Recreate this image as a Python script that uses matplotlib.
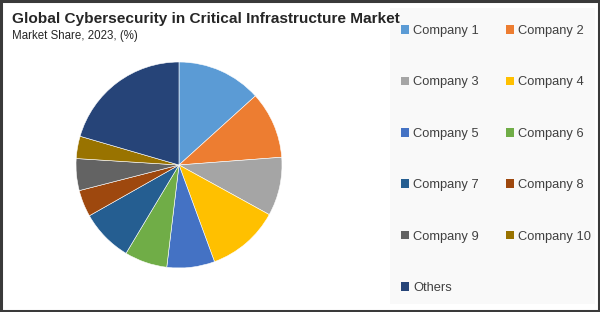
import matplotlib
matplotlib.use("Agg")
import matplotlib.pyplot as plt
from matplotlib.patches import Rectangle

# market share by company, 2023 (%)
labels = ["Company 1", "Company 2", "Company 3", "Company 4", "Company 5",
          "Company 6", "Company 7", "Company 8", "Company 9", "Company 10", "Others"]
shares = [13.3, 10.5, 9.2, 11.4, 7.5, 6.7, 8.2, 4.2, 5.0, 3.5, 20.5]
colors = ["#5B9BD5", "#ED7D31", "#A5A5A5", "#FFC000", "#4472C4", "#70AD47",
          "#255E91", "#9E480E", "#636363", "#997300", "#264478"]

plt.rcParams['font.family'] = ['Liberation Sans', 'DejaVu Sans']

fig = plt.figure(figsize=(6, 3.12), dpi=100)
fig.patch.set_facecolor("white")

# faint panel behind the legend
fig.patches.append(Rectangle((390 / 600, 8 / 312), 205 / 600, 296 / 312,
                             transform=fig.transFigure, facecolor="#F9F9F9",
                             edgecolor="none", zorder=0))
# dark frame round the picture
fig.patches.append(Rectangle((0.0015, 0.003), 0.997, 0.994, transform=fig.transFigure,
                             facecolor="none", edgecolor="#3A3A3A", linewidth=2.2, zorder=5))

ax = fig.add_axes([76 / 600, 44 / 312, 206 / 600, 206 / 312])
wedges, _ = ax.pie(shares, colors=colors, startangle=90, counterclock=False,
                   wedgeprops=dict(linewidth=0.4, edgecolor="white"))
ax.set_aspect("equal")
ax.set_xlim(-1, 1)
ax.set_ylim(-1, 1)

fig.text(12 / 600, 1 - 23 / 312, "Global Cybersecurity in Critical Infrastructure Market",
         fontsize=11.1, fontweight="bold", color="#262626", va="baseline")
fig.text(12 / 600, 1 - 38.5 / 312, "Market Share, 2023, (%)",
         fontsize=8.3, color="#262626", va="baseline")

# legend reads row by row: two entries per row
order = [0, 2, 4, 6, 8, 10, 1, 3, 5, 7, 9]
leg = fig.legend([wedges[i] for i in order], [labels[i] for i in order],
                 ncol=2, loc="upper left", bbox_to_anchor=(401 / 600, 1 - 25 / 312),
                 frameon=False, fontsize=9.3, handlelength=0.65, handleheight=0.65,
                 handletextpad=0.3, labelspacing=3.05, columnspacing=2.05,
                 borderaxespad=0, borderpad=0)
for t in leg.get_texts():
    t.set_color("#404040")
for h in leg.legend_handles:
    h.set_linewidth(0)

fig.savefig("out.png", dpi=100)
